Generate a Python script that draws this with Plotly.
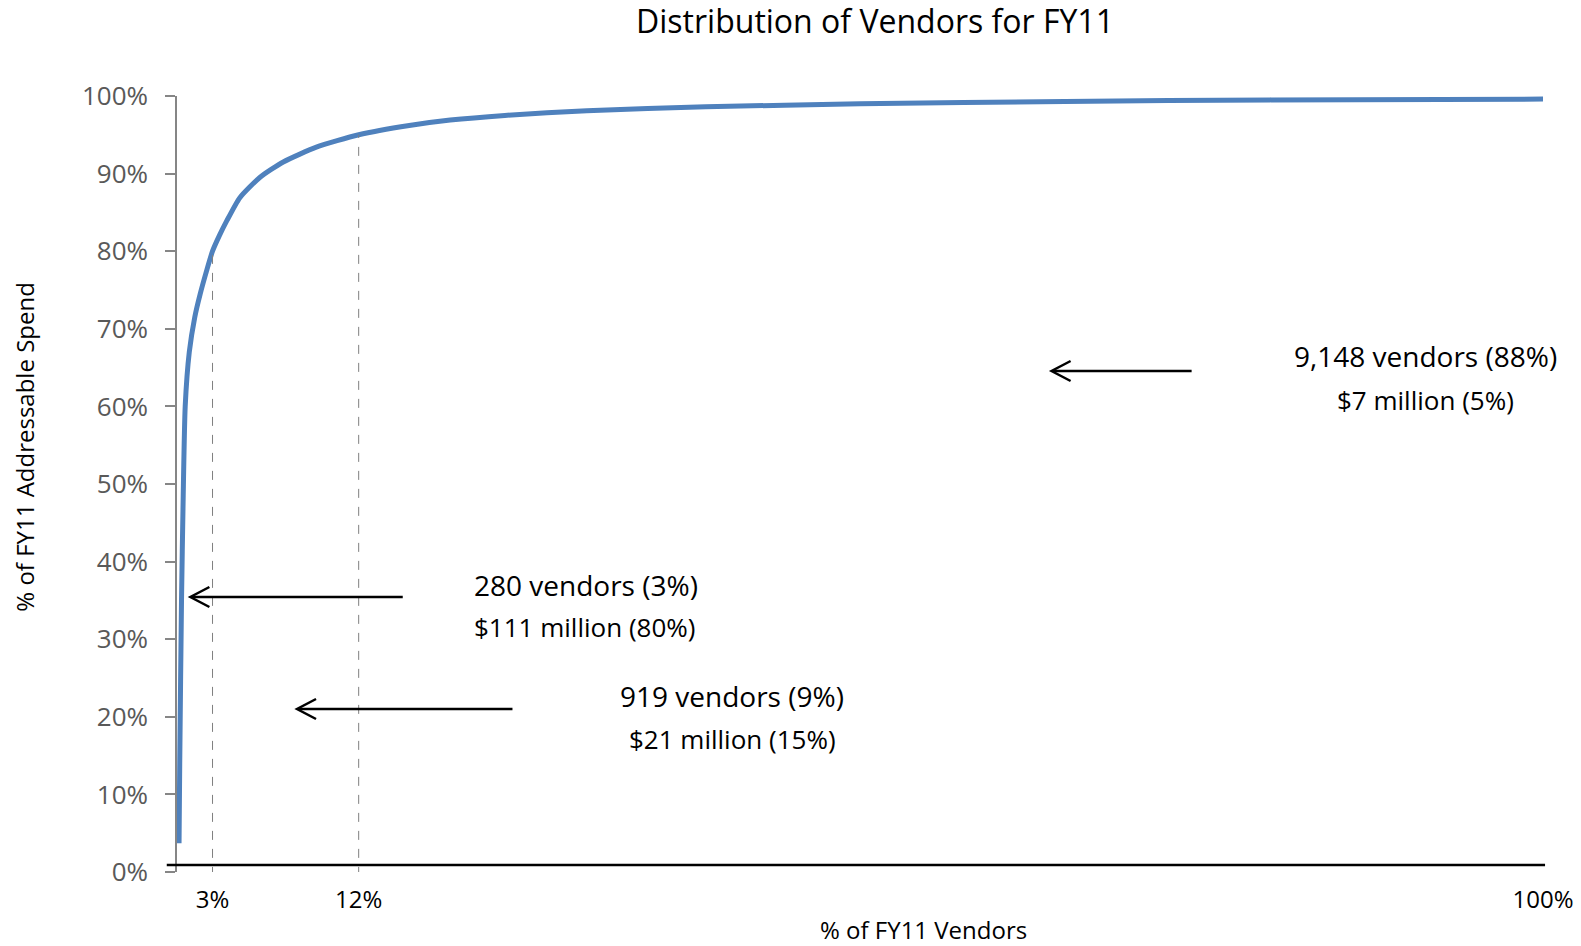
import plotly.graph_objects as go

# Cumulative share of vendors (x, %) vs cumulative share of addressable spend (y, %)
vendor_share = [0.15, 0.2, 0.33, 0.45, 0.6, 0.9, 1.3, 1.7, 2.17, 2.6, 3.1, 3.64, 4.6, 6.06,
                7.78, 10.2, 13.3, 17.0, 20.0, 24.0, 30.0, 38.7, 50.0, 65.0, 80.0, 100.0]
spend_share = [3.7, 14.0, 35.0, 48.0, 60.0, 67.0, 71.5, 74.5, 77.5, 80.0, 82.0, 83.9, 86.9, 89.5,
               91.5, 93.4, 95.0, 96.2, 96.9, 97.5, 98.1, 98.6, 99.0, 99.3, 99.5, 99.6]

# Segment boundaries on the vendor axis and the cumulative spend reached there
segment_x = [2.6, 13.3]
segment_spend = [80, 95]
x_tick_vals = [2.6, 13.3, 100]
x_tick_text = ["3%", "12%", "100%"]

segment_labels = [
    ("280 vendors (3%)", "$111 million (80%)"),
    ("919 vendors (9%)", "$21 million (15%)"),
    ("9,148 vendors (88%)", "$7 million (5%)"),
]

W, H = 1581, 946
L, R, T, B = 177.3, 1543.0, 96.0, 872.0
FONT = "Open Sans"


def dx(px):
    return px / (R - L) * 100.0


def dy(px):
    return px / (B - T) * 100.0


def xd(px):
    return (px - L) / (R - L) * 100.0


def yd(py):
    return (B - py) / (B - T) * 100.0


fig = go.Figure()
fig.add_trace(go.Scatter(
    x=vendor_share, y=spend_share, mode="lines",
    line=dict(color="#4F81BD", width=5, shape="spline", smoothing=0.6),
    hoverinfo="skip", showlegend=False,
))

shapes = []
# horizontal base line
shapes.append(dict(type="line", xref="paper", yref="y", x0=-0.0075, x1=1.0015, y0=0.9, y1=0.9,
                   line=dict(color="black", width=2.5)))
# dashed drop lines at the segment boundaries
for sx, sy in zip(segment_x, segment_spend):
    shapes.append(dict(type="line", xref="x", yref="y", x0=sx, x1=sx, y0=-0.5, y1=sy,
                       line=dict(color="#7F7F7F", width=1, dash="dash")))

# arrows: (tip x px, tail x px, y px)
arrows = [(190.7, 403.0, 597.0), (297.3, 512.7, 709.0), (1051.7, 1191.7, 371.0)]
head_dx, head_dy = dx(19), dy(10)
for tip_px, tail_px, y_px in arrows:
    tx, ty, ex = xd(tip_px), yd(y_px), xd(tail_px)
    shapes.append(dict(type="line", xref="x", yref="y", x0=tx + 0.1, x1=ex, y0=ty, y1=ty,
                       line=dict(color="black", width=2.5)))
    shapes.append(dict(type="path", xref="x", yref="y",
                       path=f"M {tx + head_dx},{ty + head_dy} L {tx},{ty} L {tx + head_dx},{ty - head_dy}",
                       line=dict(color="black", width=2.5)))

annotations = []
label_pos = [((586, 585), (585, 627)), ((732, 696), (733, 739)), ((1426, 356), (1426, 400))]
for (l1, l2), ((x1, y1), (x2, y2)) in zip(segment_labels, label_pos):
    for txt, px, py, size in ((l1, x1, y1, 28), (l2, x2, y2, 26)):
        annotations.append(dict(text=txt, x=xd(px), y=yd(py), xref="x", yref="y",
                                showarrow=False, xanchor="center", yanchor="middle",
                                font=dict(family=FONT, size=size, color="black")))

# axis titles
annotations.append(dict(text="% of FY11 Vendors", xref="paper", yref="paper",
                        x=(924 - L) / (R - L), y=(B - 929) / (B - T), showarrow=False,
                        xanchor="center", yanchor="middle",
                        font=dict(family=FONT, size=24, color="black")))
annotations.append(dict(text="% of FY11 Addressable Spend", xref="paper", yref="paper",
                        x=(25 - L) / (R - L), y=(B - 447) / (B - T), showarrow=False,
                        textangle=-90, xanchor="center", yanchor="middle",
                        font=dict(family=FONT, size=24, color="black")))

fig.update_layout(
    width=W, height=H,
    margin=dict(l=L, r=W - R, t=T, b=H - B, autoexpand=False),
    paper_bgcolor="white", plot_bgcolor="white",
    title=dict(text="Distribution of Vendors for FY11", x=875 / W, y=1 - 22 / H,
               xref="container", yref="container", xanchor="center", yanchor="middle",
               font=dict(family=FONT, size=32, color="black")),
    xaxis=dict(range=[0, 100], showgrid=False, zeroline=False, showline=False,
               tickmode="array", tickvals=x_tick_vals, ticktext=x_tick_text,
               ticks="outside", ticklen=6, tickcolor="rgba(0,0,0,0)",
               tickfont=dict(family=FONT, size=24, color="black")),
    yaxis=dict(range=[0, 100], showgrid=False, zeroline=False, showline=True,
               linecolor="#868686", linewidth=1.5, dtick=10, ticksuffix="%",
               ticks="outside", ticklen=10, tickcolor="#868686", tickwidth=1.5,
               ticklabelstandoff=12,
               tickfont=dict(family=FONT, size=26, color="#595959")),
    shapes=shapes, annotations=annotations,
    showlegend=False,
)

fig.write_html("out.html")
